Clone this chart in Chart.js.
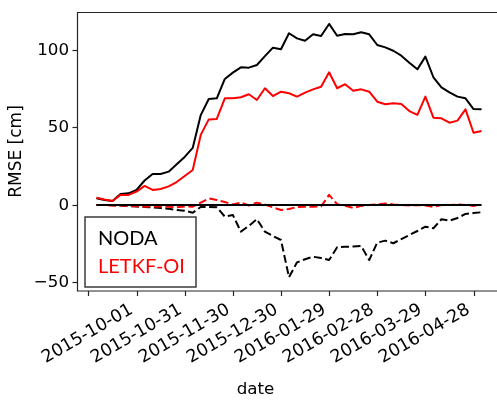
<!DOCTYPE html>
<html>
<head>
<meta charset="utf-8">
<script src="https://cdn.jsdelivr.net/npm/chart.js@4/dist/chart.umd.min.js"></script>
<style>
  html, body { margin: 0; padding: 0; background: #fff; overflow: hidden; }
  #wrap { width: 497px; height: 400px; overflow: hidden; position: relative; }
  canvas { display: block; }
</style>
</head>
<body>
<div id="wrap"><canvas id="c" width="510" height="400" style="width:510px;height:400px"></canvas></div>
<script>
// Days since 2015-10-01, one sample every 5 days
const days = [5, 10, 15, 20, 25, 30, 35, 40, 45, 50, 55, 60, 65, 70, 75, 80, 85, 90, 95, 100,
  105, 110, 115, 120, 125, 130, 135, 140, 145, 150, 155, 160, 165, 170, 175, 180, 185, 190, 195, 200,
  205, 210, 215, 220, 225, 230, 235, 240, 245];

// RMSE [cm]
const noda = [4.3, 3.2, 2.5, 7.1, 7.5, 9.7, 15.8, 20.0, 20.0, 21.5, 26.3, 31.0, 36.8, 58.0, 68.4, 68.8,
  81.3, 85.4, 88.8, 88.6, 90.3, 96.0, 101.5, 100.5, 110.8, 107.5, 106.0, 110.1, 109.0, 116.8, 109.2,
  110.3, 110.1, 111.4, 110.1, 103.2, 101.7, 99.5, 96.3, 91.8, 87.5, 95.7, 82.4, 75.9, 72.7, 69.9,
  68.8, 61.9, 61.7];
const letkf = [4.7, 3.5, 2.6, 6.5, 6.5, 8.6, 12.3, 9.7, 10.3, 12.0, 14.8, 18.7, 22.6, 45.2, 55.2, 55.5,
  68.8, 68.8, 69.5, 71.4, 67.7, 75.3, 70.3, 73.1, 72.1, 69.9, 72.5, 74.6, 76.3, 85.6, 75.3, 77.9,
  73.7, 74.6, 73.1, 66.6, 65.0, 65.6, 65.2, 60.6, 58.1, 69.9, 56.3, 55.9, 53.1, 54.4, 61.7, 46.6, 47.7];
// Differences (dashed)
const nodaDiff = [0, 0, -0.2, -0.4, -0.7, -1.0, -1.3, -1.5, -2.0, -2.5, -3.2, -3.7, -5.0, -1.3, -1.3, -1.5,
  -7.5, -6.5, -17.2, -13.5, -9.2, -17.2, -20.0, -22.6, -46.6, -37.0, -35.0, -33.4, -34.2, -35.5, -27.3,
  -27.0, -26.8, -26.5, -35.5, -24.3, -23.0, -24.7, -22.0, -19.4, -16.8, -14.0, -15.0, -9.2, -10.1, -8.4,
  -5.8, -5.2, -4.7];
const letkfDiff = [0, 0, -0.3, -0.4, -0.6, -0.8, -1.2, -1.0, -1.0, -1.2, -1.4, -1.0, -1.1, 1.5, 4.2, 3.2,
  1.9, 0.3, 1.6, -0.3, 1.5, 0.3, -1.6, -3.2, -2.6, -1.3, -1.1, -1.1, -1.0, 6.5, 0.5, -0.6, -1.9, -0.6,
  0, 0.3, 1.0, 0.3, 0, -0.3, 0, -0.3, -1.3, 0, 0, 0.3, 0, -0.6, 0.6];
const zeroLine = [0, 0, 0, 0, 0, 0, 0, 0, 0, 0, 0, 0, 0, 0, 0, 0, 0, 0, 0, 0, 0, 0, 0, 0, 0,
  0, 0, 0, 0, 0, 0, 0, 0, 0, 0, 0, 0, 0, 0, 0, 0, 0, 0, 0, 0, 0, 0, 0, 0];

// Axis ticks
const xTickDays = [0, 30, 60, 90, 120, 150, 180, 210, 240];
const xTickLabels = ['2015-10-01', '2015-10-31', '2015-11-30', '2015-12-30',
  '2016-01-29', '2016-02-28', '2016-03-29', '2016-04-28', ''];
const yTickValues = [-50, 0, 50, 100];
const yTickLabels = ['\u221250', '0', '50', '100'];

const seriesNames = ['NODA', 'LETKF-OI'];
const seriesColors = ['#000000', '#ff0000'];

const pts = arr => arr.map((v, i) => ({ x: days[i], y: v }));

const FONT = '"DejaVu Sans", sans-serif';

const axesPlugin = {
  id: 'axesPlugin',
  afterDraw(chart) {
    const { ctx, chartArea: a, scales: { x, y } } = chart;
    ctx.save();
    // spines
    ctx.strokeStyle = '#262626';
    ctx.lineWidth = 1.2;
    ctx.beginPath();
    ctx.moveTo(a.right, a.top + 0.5);
    ctx.lineTo(a.left - 0.5, a.top + 0.5);
    ctx.lineTo(a.left - 0.5, a.bottom);
    ctx.lineTo(a.right, a.bottom);
    ctx.stroke();

    ctx.fillStyle = '#000';
    ctx.font = '16.7px ' + FONT;
    // y ticks + labels
    ctx.textAlign = 'right';
    ctx.textBaseline = 'middle';
    yTickValues.forEach((v, i) => {
      const py = Math.round(y.getPixelForValue(v)) + 0.5;
      ctx.beginPath();
      ctx.moveTo(a.left - 5.5, py);
      ctx.lineTo(a.left - 0.5, py);
      ctx.stroke();
      ctx.fillText(yTickLabels[i], a.left - 9, py);
    });
    // x ticks + rotated labels
    ctx.font = '17.5px ' + FONT;
    xTickDays.forEach((d, i) => {
      const px = Math.round(x.getPixelForValue(d)) + 0.5;
      ctx.beginPath();
      ctx.moveTo(px, a.bottom);
      ctx.lineTo(px, a.bottom + 5);
      ctx.stroke();
      if (xTickLabels[i]) {
        ctx.save();
        ctx.translate(px - 1, a.bottom + 43);
        ctx.rotate(-Math.PI / 6);
        ctx.textAlign = 'center';
        ctx.textBaseline = 'middle';
        ctx.fillText(xTickLabels[i], 0, 0);
        ctx.restore();
      }
    });
    // axis titles
    ctx.font = '16.7px ' + FONT;
    ctx.textAlign = 'center';
    ctx.textBaseline = 'alphabetic';
    ctx.fillText('date', 255.5, 394);
    ctx.save();
    ctx.translate(21, (a.top + a.bottom) / 2);
    ctx.rotate(-Math.PI / 2);
    ctx.font = '17px ' + FONT;
    ctx.fillText('RMSE [cm]', 0, 0);
    ctx.restore();

    // legend box
    ctx.fillStyle = '#fff';
    ctx.fillRect(85, 217, 111, 70);
    ctx.strokeStyle = '#3c3c3c';
    ctx.lineWidth = 1.5;
    ctx.strokeRect(85, 217, 111, 70);
    ctx.font = '20px Lato, "Open Sans", sans-serif';
    ctx.textAlign = 'left';
    ctx.textBaseline = 'alphabetic';
    ctx.fillStyle = seriesColors[0];
    ctx.fillText(seriesNames[0], 98, 245);
    ctx.fillStyle = seriesColors[1];
    ctx.fillText(seriesNames[1], 98, 272.5);
    ctx.restore();
  }
};

new Chart(document.getElementById('c'), {
  type: 'line',
  data: {
    datasets: [
      { label: 'zero', data: pts(zeroLine), borderColor: '#000', borderWidth: 2 },
      { label: seriesNames[1] + ' diff', data: pts(letkfDiff), borderColor: seriesColors[1], borderWidth: 2, borderDash: [8, 3.5] },
      { label: seriesNames[0] + ' diff', data: pts(nodaDiff), borderColor: seriesColors[0], borderWidth: 2, borderDash: [8, 3.5] },
      { label: seriesNames[1], data: pts(letkf), borderColor: seriesColors[1], borderWidth: 2 },
      { label: seriesNames[0], data: pts(noda), borderColor: seriesColors[0], borderWidth: 2 }
    ]
  },
  options: {
    responsive: false,
    devicePixelRatio: 1,
    animation: false,
    layout: { padding: { left: 78, top: 12, right: 10, bottom: 109 } },
    elements: {
      point: { radius: 0, hoverRadius: 0 },
      line: { tension: 0, fill: false, borderJoinStyle: 'round' }
    },
    scales: {
      x: { type: 'linear', display: false, min: -6.5, max: 256.5 },
      y: { type: 'linear', display: false, min: -55.5, max: 124.5 }
    },
    plugins: { legend: { display: false }, tooltip: { enabled: false } }
  },
  plugins: [axesPlugin]
});
</script>
</body>
</html>
